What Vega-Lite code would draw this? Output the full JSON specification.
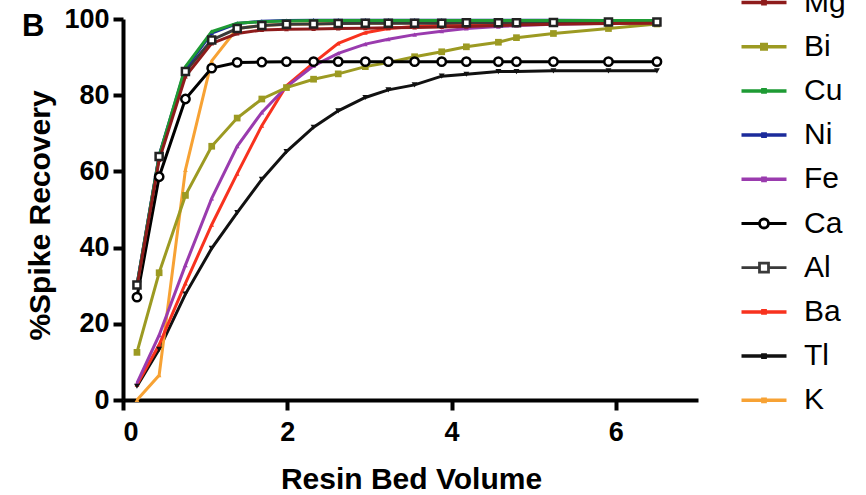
{
  "$schema": "https://vega.github.io/schema/vega-lite/v6.json",
  "width": 575,
  "height": 381,
  "autosize": {"type": "none"},
  "padding": {"left": 123, "top": 19, "right": 168, "bottom": 95},
  "background": "white",
  "title": {"text": "B", "anchor": "start", "frame": "group", "fontSize": 31, "fontWeight": "bold", "font": "Liberation Sans", "color": "black", "dx": -101, "dy": 48, "offset": -31, "baseline": "alphabetic"},
  "config": {
    "view": {"stroke": null},
    "font": "Liberation Sans",
    "axis": {"grid": false, "domainColor": "black", "domainWidth": 4, "tickColor": "black", "tickWidth": 4, "tickSize": 10, "labelFont": "Liberation Sans", "labelFontWeight": "bold", "labelFontSize": 27, "labelColor": "black", "titleFont": "Liberation Sans", "titleColor": "black", "titleFontSize": 30, "titleFontWeight": "bold"}
  },
  "data": {"values": [
    {"el":"Tl","x":0.17,"y":3.6},{"el":"Tl","x":0.44,"y":13.3},{"el":"Tl","x":0.76,"y":27.8},{"el":"Tl","x":1.08,"y":39.8},{"el":"Tl","x":1.39,"y":49.2},{"el":"Tl","x":1.69,"y":57.9},{"el":"Tl","x":1.99,"y":65.2},{"el":"Tl","x":2.32,"y":71.6},{"el":"Tl","x":2.62,"y":75.9},{"el":"Tl","x":2.95,"y":79.4},{"el":"Tl","x":3.23,"y":81.4},{"el":"Tl","x":3.55,"y":82.7},{"el":"Tl","x":3.88,"y":85.0},{"el":"Tl","x":4.18,"y":85.5},{"el":"Tl","x":4.57,"y":86.2},{"el":"Tl","x":4.79,"y":86.2},{"el":"Tl","x":5.24,"y":86.4},{"el":"Tl","x":5.91,"y":86.4},{"el":"Tl","x":6.5,"y":86.4},
    {"el":"K","x":0.17,"y":0.0},{"el":"K","x":0.44,"y":6.5},{"el":"K","x":0.76,"y":60.4},{"el":"K","x":1.08,"y":89.0},{"el":"K","x":1.39,"y":97.5},{"el":"K","x":1.69,"y":98.3},{"el":"K","x":1.99,"y":98.6},{"el":"K","x":2.32,"y":98.7},{"el":"K","x":2.62,"y":98.8},{"el":"K","x":2.95,"y":98.9},{"el":"K","x":3.23,"y":98.9},{"el":"K","x":3.55,"y":99.0},{"el":"K","x":3.88,"y":99.0},{"el":"K","x":4.18,"y":99.0},{"el":"K","x":4.57,"y":99.1},{"el":"K","x":4.79,"y":99.1},{"el":"K","x":5.24,"y":99.2},{"el":"K","x":5.91,"y":99.2},{"el":"K","x":6.5,"y":99.2},
    {"el":"Ba","x":0.17,"y":4.0},{"el":"Ba","x":0.44,"y":14.5},{"el":"Ba","x":0.76,"y":30.6},{"el":"Ba","x":1.08,"y":46.0},{"el":"Ba","x":1.39,"y":59.4},{"el":"Ba","x":1.69,"y":72.0},{"el":"Ba","x":1.99,"y":82.5},{"el":"Ba","x":2.32,"y":88.5},{"el":"Ba","x":2.62,"y":93.6},{"el":"Ba","x":2.95,"y":96.4},{"el":"Ba","x":3.23,"y":97.5},{"el":"Ba","x":3.55,"y":98.0},{"el":"Ba","x":3.88,"y":98.3},{"el":"Ba","x":4.18,"y":98.5},{"el":"Ba","x":4.57,"y":98.7},{"el":"Ba","x":4.79,"y":98.8},{"el":"Ba","x":5.24,"y":99.0},{"el":"Ba","x":5.91,"y":99.0},{"el":"Ba","x":6.5,"y":99.2},
    {"el":"Fe","x":0.17,"y":4.4},{"el":"Fe","x":0.44,"y":17.0},{"el":"Fe","x":0.76,"y":35.4},{"el":"Fe","x":1.08,"y":52.9},{"el":"Fe","x":1.39,"y":66.6},{"el":"Fe","x":1.69,"y":75.5},{"el":"Fe","x":1.99,"y":82.2},{"el":"Fe","x":2.32,"y":87.7},{"el":"Fe","x":2.62,"y":91.0},{"el":"Fe","x":2.95,"y":93.4},{"el":"Fe","x":3.23,"y":94.7},{"el":"Fe","x":3.55,"y":95.9},{"el":"Fe","x":3.88,"y":96.8},{"el":"Fe","x":4.18,"y":97.5},{"el":"Fe","x":4.57,"y":98.0},{"el":"Fe","x":4.79,"y":98.3},{"el":"Fe","x":5.24,"y":98.6},{"el":"Fe","x":5.91,"y":98.9},{"el":"Fe","x":6.5,"y":99.1},
    {"el":"Bi","x":0.17,"y":12.5},{"el":"Bi","x":0.44,"y":33.4},{"el":"Bi","x":0.76,"y":53.7},{"el":"Bi","x":1.08,"y":66.6},{"el":"Bi","x":1.39,"y":74.0},{"el":"Bi","x":1.69,"y":79.0},{"el":"Bi","x":1.99,"y":82.0},{"el":"Bi","x":2.32,"y":84.2},{"el":"Bi","x":2.62,"y":85.6},{"el":"Bi","x":2.95,"y":87.5},{"el":"Bi","x":3.23,"y":88.6},{"el":"Bi","x":3.55,"y":90.1},{"el":"Bi","x":3.88,"y":91.4},{"el":"Bi","x":4.18,"y":92.7},{"el":"Bi","x":4.57,"y":93.9},{"el":"Bi","x":4.79,"y":95.1},{"el":"Bi","x":5.24,"y":96.2},{"el":"Bi","x":5.91,"y":97.5},{"el":"Bi","x":6.5,"y":98.7},
    {"el":"Ca","x":0.17,"y":27.0},{"el":"Ca","x":0.44,"y":58.6},{"el":"Ca","x":0.76,"y":79.0},{"el":"Ca","x":1.08,"y":87.1},{"el":"Ca","x":1.39,"y":88.6},{"el":"Ca","x":1.69,"y":88.7},{"el":"Ca","x":1.99,"y":88.8},{"el":"Ca","x":2.32,"y":88.8},{"el":"Ca","x":2.62,"y":88.8},{"el":"Ca","x":2.95,"y":88.8},{"el":"Ca","x":3.23,"y":88.8},{"el":"Ca","x":3.55,"y":88.8},{"el":"Ca","x":3.88,"y":88.8},{"el":"Ca","x":4.18,"y":88.8},{"el":"Ca","x":4.57,"y":88.8},{"el":"Ca","x":4.79,"y":88.8},{"el":"Ca","x":5.24,"y":88.8},{"el":"Ca","x":5.91,"y":88.8},{"el":"Ca","x":6.5,"y":88.8},
    {"el":"Al","x":0.17,"y":30.2},{"el":"Al","x":0.44,"y":63.9},{"el":"Al","x":0.76,"y":86.2},{"el":"Al","x":1.08,"y":94.5},{"el":"Al","x":1.39,"y":97.5},{"el":"Al","x":1.69,"y":98.3},{"el":"Al","x":1.99,"y":98.6},{"el":"Al","x":2.32,"y":98.7},{"el":"Al","x":2.62,"y":98.8},{"el":"Al","x":2.95,"y":98.9},{"el":"Al","x":3.23,"y":98.9},{"el":"Al","x":3.55,"y":98.9},{"el":"Al","x":3.88,"y":98.9},{"el":"Al","x":4.18,"y":99.0},{"el":"Al","x":4.57,"y":99.0},{"el":"Al","x":4.79,"y":99.0},{"el":"Al","x":5.24,"y":99.1},{"el":"Al","x":5.91,"y":99.2},{"el":"Al","x":6.5,"y":99.2},
    {"el":"Ni","x":0.17,"y":30.2},{"el":"Ni","x":0.44,"y":64.2},{"el":"Ni","x":0.76,"y":87.0},{"el":"Ni","x":1.08,"y":96.3},{"el":"Ni","x":1.39,"y":98.8},{"el":"Ni","x":1.69,"y":99.4},{"el":"Ni","x":1.99,"y":99.6},{"el":"Ni","x":2.32,"y":99.7},{"el":"Ni","x":2.62,"y":99.7},{"el":"Ni","x":2.95,"y":99.7},{"el":"Ni","x":3.23,"y":99.7},{"el":"Ni","x":3.55,"y":99.7},{"el":"Ni","x":3.88,"y":99.7},{"el":"Ni","x":4.18,"y":99.7},{"el":"Ni","x":4.57,"y":99.7},{"el":"Ni","x":4.79,"y":99.7},{"el":"Ni","x":5.24,"y":99.7},{"el":"Ni","x":5.91,"y":99.6},{"el":"Ni","x":6.5,"y":99.5},
    {"el":"Cu","x":0.17,"y":30.0},{"el":"Cu","x":0.44,"y":64.0},{"el":"Cu","x":0.76,"y":87.5},{"el":"Cu","x":1.08,"y":96.7},{"el":"Cu","x":1.39,"y":98.9},{"el":"Cu","x":1.69,"y":99.3},{"el":"Cu","x":1.99,"y":99.5},{"el":"Cu","x":2.32,"y":99.6},{"el":"Cu","x":2.62,"y":99.6},{"el":"Cu","x":2.95,"y":99.6},{"el":"Cu","x":3.23,"y":99.6},{"el":"Cu","x":3.55,"y":99.6},{"el":"Cu","x":3.88,"y":99.6},{"el":"Cu","x":4.18,"y":99.6},{"el":"Cu","x":4.57,"y":99.6},{"el":"Cu","x":4.79,"y":99.6},{"el":"Cu","x":5.24,"y":99.6},{"el":"Cu","x":5.91,"y":99.6},{"el":"Cu","x":6.5,"y":99.6},
    {"el":"Mg","x":0.17,"y":29.7},{"el":"Mg","x":0.44,"y":63.0},{"el":"Mg","x":0.76,"y":84.9},{"el":"Mg","x":1.08,"y":93.6},{"el":"Mg","x":1.39,"y":96.2},{"el":"Mg","x":1.69,"y":97.1},{"el":"Mg","x":1.99,"y":97.3},{"el":"Mg","x":2.32,"y":97.4},{"el":"Mg","x":2.62,"y":97.5},{"el":"Mg","x":2.95,"y":97.6},{"el":"Mg","x":3.23,"y":97.7},{"el":"Mg","x":3.55,"y":97.8},{"el":"Mg","x":3.88,"y":97.9},{"el":"Mg","x":4.18,"y":98.0},{"el":"Mg","x":4.57,"y":98.3},{"el":"Mg","x":4.79,"y":98.4},{"el":"Mg","x":5.24,"y":98.6},{"el":"Mg","x":5.91,"y":98.8},{"el":"Mg","x":6.5,"y":98.9}
  ]},
  "encoding": {
    "x": {"field": "x", "type": "quantitative", "scale": {"domain": [0, 7], "nice": false, "zero": false},
      "axis": {"values": [0, 2, 4, 6], "title": "Resin Bed Volume", "labelPadding": 9, "titleX": 288, "titleY": 88, "titleBaseline": "alphabetic", "titleAnchor": "middle"}},
    "y": {"field": "y", "type": "quantitative", "scale": {"domain": [0, 100], "nice": false},
      "axis": {"values": [0, 20, 40, 60, 80, 100], "title": "%Spike Recovery", "labelPadding": 4, "titleX": -74, "titleY": 196, "titleAngle": -90, "titleBaseline": "alphabetic", "titleAnchor": "middle"}}
  },
  "layer": [
    {
      "mark": {"type": "line", "strokeWidth": 3},
      "encoding": {
        "color": {"field": "el", "type": "nominal",
          "scale": {"domain": ["Mg", "Bi", "Cu", "Ni", "Fe", "Ca", "Al", "Ba", "Tl", "K"],
                    "range": ["#8E1B1B", "#9C9A22", "#1E9B34", "#1B2B9B", "#9A3BAE", "#000000", "#3A3A3A", "#F8321E", "#111111", "#F7A234"]},
          "legend": {"title": null, "orient": "none", "legendX": 626, "legendY": -31.5, "padding": 0, "rowPadding": 14.2,
            "symbolSize": 225, "symbolStrokeWidth": 3.5, "labelFont": "Liberation Sans", "labelFontSize": 30, "labelColor": "black", "labelOffset": 25, "labelLimit": 200,
            "encode": {"symbols": {"update": {
              "shape": {"signal": "datum.value === 'Ca' ? 'M-3,0H-0.6M0.6,0H3M0.6,0A0.6,0.6,0,1,1,-0.6,0A0.6,0.6,0,1,1,0.6,0' : datum.value === 'Al' ? 'M-3,0H-0.6M0.6,0H3M-0.6,-0.6H0.6V0.6H-0.6Z' : datum.value === 'Bi' ? 'M-3,0H3M-0.3,-0.3H0.3V0.3H-0.3Z' : 'M-3,0H3M-0.15,-0.15H0.15V0.15H-0.15Z'"},
              "fill": {"value": "transparent"},
              "fillOpacity": {"value": 0},
              "stroke": {"scale": "color", "field": "value"},
              "strokeWidth": {"signal": "datum.value === 'Ca' || datum.value === 'Al' ? 2.8 : 3.5"}
            }}}}
        }
      }
    },
    {
      "transform": [{"filter": "indexof(['Mg','Cu','Ni','Fe','Ba','K'], datum.el) >= 0"}],
      "mark": {"type": "point", "shape": "triangle-up", "filled": true, "size": 22, "opacity": 1},
      "encoding": {"color": {"field": "el", "type": "nominal"}}
    },
    {
      "transform": [{"filter": "datum.el === 'Bi'"}],
      "mark": {"type": "point", "shape": "square", "filled": true, "size": 45, "opacity": 1, "color": "#9C9A22"}
    },
    {
      "transform": [{"filter": "datum.el === 'Tl'"}],
      "mark": {"type": "point", "shape": "triangle-down", "filled": true, "size": 35, "opacity": 1, "color": "#111111"}
    },
    {
      "transform": [{"filter": "datum.el === 'Al'"}],
      "mark": {"type": "point", "shape": "square", "size": 50, "opacity": 1, "fill": "white", "stroke": "#222222", "strokeWidth": 2.5}
    },
    {
      "transform": [{"filter": "datum.el === 'Ca'"}],
      "mark": {"type": "point", "shape": "circle", "size": 70, "opacity": 1, "fill": "white", "stroke": "#000000", "strokeWidth": 2.5}
    }
  ]
}
